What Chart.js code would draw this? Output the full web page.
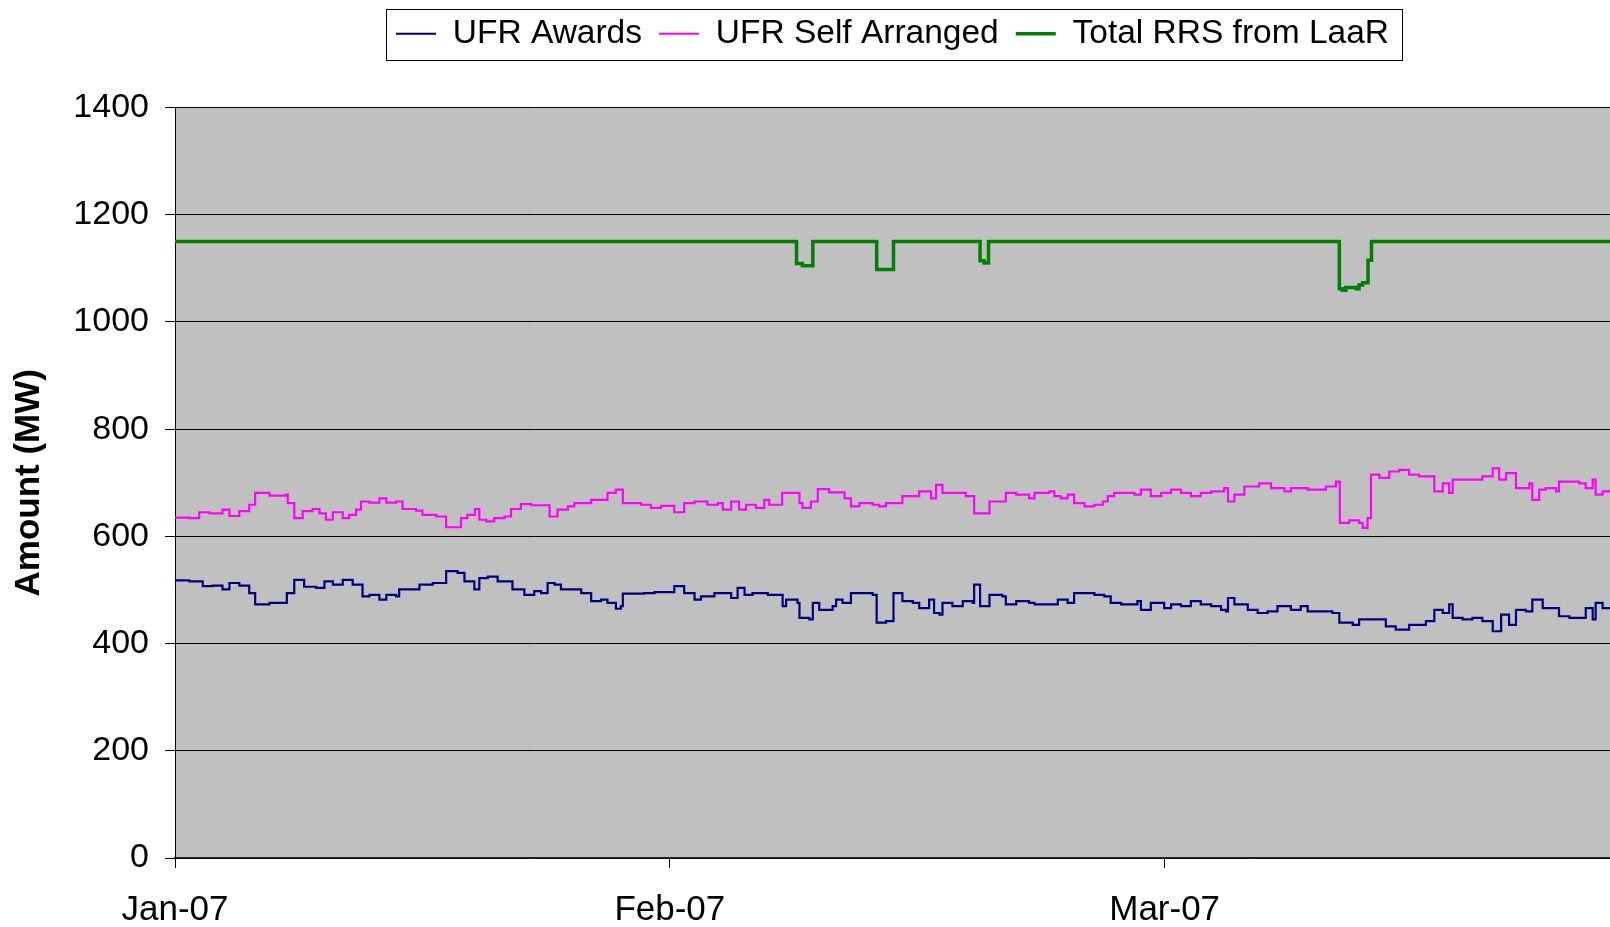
<!DOCTYPE html>
<html>
<head>
<meta charset="utf-8">
<script src="https://cdn.jsdelivr.net/npm/chart.js@4"></script>
<style>
  html, body { margin: 0; padding: 0; background: #fff; }
  canvas { display: block; }
</style>
</head>
<body>
<canvas id="rrsChart" width="1610" height="927"></canvas>
<script>
// x positions are in months after Jan-07 (Feb-07 = 1, Mar-07 = 2)
const monthLabels = ['Jan-07', 'Feb-07', 'Mar-07'];
const monthTicks = [0, 1, 2];

const awardsAt = [0, 0.029, 0.056, 0.076, 0.096, 0.110, 0.130, 0.150, 0.162, 0.191, 0.226, 0.241, 0.261, 0.285, 0.302, 0.319, 0.339, 0.359, 0.379, 0.393,
  0.413, 0.427, 0.447, 0.453, 0.494, 0.521, 0.548, 0.571, 0.585, 0.605, 0.615, 0.632, 0.652, 0.682, 0.706, 0.726, 0.740, 0.753, 0.767, 0.780,
  0.821, 0.841, 0.861, 0.874, 0.891, 0.901, 0.905, 0.948, 0.969, 1.009, 1.029, 1.050, 1.063, 1.090, 1.124, 1.137, 1.151, 1.167, 1.198, 1.228,
  1.235, 1.258, 1.262, 1.282, 1.289, 1.302, 1.329, 1.336, 1.349, 1.366, 1.410, 1.418, 1.437, 1.452, 1.470, 1.491, 1.504, 1.524, 1.534, 1.545,
  1.551, 1.571, 1.592, 1.612, 1.615, 1.627, 1.646, 1.672, 1.679, 1.700, 1.726, 1.737, 1.784, 1.804, 1.817, 1.858, 1.878, 1.891, 1.912, 1.945,
  1.952, 1.972, 1.999, 2.013, 2.033, 2.053, 2.073, 2.094, 2.114, 2.124, 2.128, 2.141, 2.168, 2.188, 2.208, 2.228, 2.255, 2.275, 2.289, 2.339,
  2.353, 2.380, 2.393, 2.447, 2.467, 2.494, 2.528, 2.545, 2.562, 2.575, 2.582, 2.602, 2.622, 2.642, 2.663, 2.680, 2.696, 2.710, 2.730, 2.743,
  2.764, 2.797, 2.818, 2.851, 2.865, 2.871, 2.885, 2.900];
const awardsMW = [518, 516, 507, 508, 501, 513, 508, 494, 473, 476, 494, 519, 506, 504, 516, 510, 519, 510, 488, 491,
  482, 491, 488, 501, 510, 513, 535, 532, 516, 501, 522, 525, 516, 501, 491, 498, 494, 513, 510, 501,
  494, 479, 482, 476, 465, 470, 493, 494, 496, 507, 494, 482, 488, 494, 485, 504, 491, 494, 491, 470,
  482, 476, 448, 445, 476, 463, 470, 482, 476, 494, 491, 439, 442, 494, 479, 476, 466, 482, 457, 454,
  476, 470, 479, 476, 510, 470, 491, 488, 473, 479, 476, 473, 482, 476, 494, 491, 488, 476, 473, 479,
  463, 476, 466, 473, 470, 479, 473, 470, 463, 460, 485, 473, 463, 457, 460, 470, 463, 470, 460, 457,
  439, 435, 445, 432, 426, 435, 442, 463, 457, 473, 448, 445, 448, 442, 423, 454, 435, 463, 460, 482,
  466, 451, 448, 466, 445, 476, 466, 466];

const selfAt = [0, 0.029, 0.049, 0.070, 0.096, 0.110, 0.130, 0.150, 0.162, 0.191, 0.224, 0.228, 0.241, 0.258, 0.278, 0.292, 0.305, 0.319, 0.339, 0.352,
  0.366, 0.376, 0.393, 0.413, 0.427, 0.447, 0.460, 0.487, 0.500, 0.528, 0.548, 0.578, 0.591, 0.606, 0.615, 0.629, 0.645, 0.666, 0.679, 0.699,
  0.720, 0.757, 0.773, 0.794, 0.807, 0.841, 0.874, 0.891, 0.905, 0.942, 0.962, 0.982, 1.009, 1.029, 1.050, 1.076, 1.097, 1.107, 1.124, 1.140,
  1.154, 1.174, 1.191, 1.201, 1.227, 1.262, 1.268, 1.285, 1.299, 1.322, 1.353, 1.366, 1.383, 1.410, 1.423, 1.437, 1.470, 1.504, 1.528, 1.538,
  1.551, 1.598, 1.615, 1.646, 1.679, 1.700, 1.726, 1.737, 1.767, 1.777, 1.790, 1.804, 1.817, 1.838, 1.858, 1.875, 1.885, 1.898, 1.939, 1.952,
  1.972, 1.993, 2.013, 2.033, 2.053, 2.073, 2.094, 2.120, 2.128, 2.141, 2.161, 2.191, 2.215, 2.242, 2.255, 2.289, 2.326, 2.346, 2.354, 2.373,
  2.393, 2.400, 2.410, 2.417, 2.434, 2.454, 2.474, 2.494, 2.514, 2.545, 2.562, 2.575, 2.582, 2.642, 2.663, 2.676, 2.690, 2.710, 2.737, 2.743,
  2.757, 2.770, 2.791, 2.797, 2.838, 2.851, 2.865, 2.871, 2.885, 2.900];
const selfMW = [635, 634, 645, 643, 650, 638, 647, 659, 681, 676, 678, 662, 634, 647, 651, 643, 631, 645, 634, 640,
  650, 665, 663, 671, 663, 665, 651, 648, 640, 637, 617, 634, 640, 651, 631, 628, 634, 637, 651, 660,
  658, 637, 650, 656, 662, 668, 681, 687, 662, 659, 653, 657, 645, 662, 665, 659, 662, 650, 665, 650,
  659, 653, 668, 659, 681, 662, 653, 665, 688, 682, 671, 656, 662, 659, 656, 662, 675, 684, 671, 696,
  681, 675, 643, 665, 681, 678, 671, 681, 684, 675, 671, 678, 662, 656, 659, 665, 675, 681, 678, 687,
  675, 681, 687, 681, 675, 681, 684, 690, 665, 678, 693, 699, 690, 684, 690, 687, 693, 702, 625, 630,
  625, 616, 634, 715, 709, 721, 724, 715, 712, 684, 699, 681, 706, 712, 727, 706, 718, 690, 699, 668,
  687, 690, 684, 702, 699, 690, 706, 678, 684, 687];

const laarAt = [0, 1.256, 1.268, 1.289, 1.418, 1.452, 1.627, 1.635, 1.644, 2.353, 2.359, 2.366, 2.387, 2.393, 2.400, 2.411, 2.418, 2.900];
const laarMW = [1150, 1109, 1105, 1150, 1098, 1150, 1114, 1110, 1150, 1062, 1059, 1064, 1062, 1069, 1073, 1115, 1150, 1150];

const toPoints = (xs, ys) => xs.map((x, i) => ({ x: x, y: ys[i] }));

const plotBackground = {
  id: 'plotBackground',
  beforeDraw(chart) {
    const { ctx, chartArea } = chart;
    ctx.save();
    ctx.fillStyle = '#c0c0c0';
    ctx.fillRect(chartArea.left, chartArea.top, chartArea.right - chartArea.left, chartArea.bottom - chartArea.top);
    ctx.restore();
  }
};

// extra room under the legend, and a frame round it
const legendFrame = {
  id: 'legendFrame',
  beforeUpdate(chart) {
    const legend = chart.legend;
    if (legend && !legend._gapAdded) {
      const fit = legend.fit;
      legend.fit = function () { fit.call(this); this.height += 47; };
      legend._gapAdded = true;
    }
  },
  afterDraw(chart) {
    const boxes = chart.legend && chart.legend.legendHitBoxes;
    if (!boxes || !boxes.length) return;
    const left = Math.min(...boxes.map(b => b.left)) - 10;
    const right = Math.max(...boxes.map(b => b.left + b.width)) + 13;
    const top = boxes[0].top - 8;
    const bottom = boxes[0].top + boxes[0].height + 9;
    const ctx = chart.ctx;
    ctx.save();
    ctx.strokeStyle = '#000';
    ctx.lineWidth = 1;
    ctx.strokeRect(Math.round(left) + 0.5, Math.round(top) + 0.5, Math.round(right - left), Math.round(bottom - top));
    ctx.restore();
  }
};

const ctx = document.getElementById('rrsChart').getContext('2d');
new Chart(ctx, {
  type: 'line',
  data: {
    datasets: [
      {
        label: 'UFR Awards',
        data: toPoints(awardsAt, awardsMW),
        borderColor: '#000080',
        backgroundColor: '#000080',
        borderWidth: 2.2,
        stepped: true,
        pointRadius: 0,
        pointStyle: 'line'
      },
      {
        label: 'UFR Self Arranged',
        data: toPoints(selfAt, selfMW),
        borderColor: '#ff00ff',
        backgroundColor: '#ff00ff',
        borderWidth: 2.2,
        stepped: true,
        pointRadius: 0,
        pointStyle: 'line'
      },
      {
        label: 'Total RRS from LaaR',
        data: toPoints(laarAt, laarMW),
        borderColor: '#008000',
        backgroundColor: '#008000',
        borderWidth: 3.5,
        stepped: true,
        pointRadius: 0,
        pointStyle: 'line'
      }
    ]
  },
  options: {
    responsive: false,
    animation: false,
    layout: { padding: { left: 0, right: 0, top: 0, bottom: 0 } },
    plugins: {
      tooltip: { enabled: false },
      legend: {
        position: 'top',
        fullSize: false,
        labels: {
          usePointStyle: true,
          pointStyleWidth: 40,
          padding: 17,
          color: '#000',
          font: { family: 'Liberation Sans, Arial, sans-serif', size: 33.5 }
        }
      }
    },
    scales: {
      x: {
        type: 'linear',
        min: 0,
        max: 2.9,
        afterBuildTicks(scale) {
          scale.ticks = monthTicks.map(v => ({ value: v }));
        },
        afterFit(scale) { scale.height = 69; },
        ticks: {
          autoSkip: false,
          maxRotation: 0,
          padding: 21,
          color: '#000',
          font: { family: 'Liberation Sans, Arial, sans-serif', size: 35 },
          callback: (v) => monthLabels[v]
        },
        grid: { drawOnChartArea: false, drawTicks: true, tickLength: 10, color: '#000' },
        border: { color: '#222', width: 1.5 }
      },
      y: {
        min: 0,
        max: 1400,
        afterFit(scale) { scale.width = 175; },
        ticks: {
          stepSize: 200,
          padding: 16,
          color: '#000',
          font: { family: 'Liberation Sans, Arial, sans-serif', size: 34 },
          callback: (v) => String(v)
        },
        grid: { color: '#000', lineWidth: 1, tickLength: 10 },
        border: { color: '#000', width: 1 },
        title: {
          display: true,
          text: 'Amount (MW)',
          color: '#000',
          padding: { top: 8, bottom: 0 },
          font: { family: 'Liberation Sans, Arial, sans-serif', size: 35, weight: 'bold' }
        }
      }
    }
  },
  plugins: [plotBackground, legendFrame]
});
</script>
</body>
</html>
